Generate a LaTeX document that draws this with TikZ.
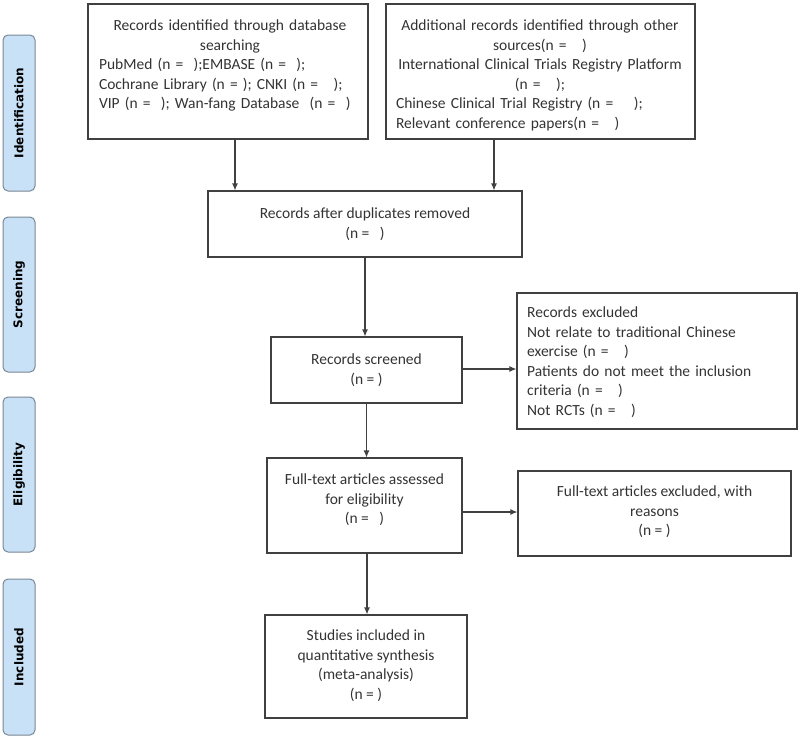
\documentclass[tikz,border=0pt]{standalone}
\usepackage{fontspec}
\setmainfont{Carlito}
\newfontfamily\tabfont{DejaVu Sans}
\usetikzlibrary{arrows.meta}
\definecolor{tabfill}{HTML}{C9E1F6}
\definecolor{tabline}{HTML}{7A8794}
\definecolor{txtc}{HTML}{333333}
\definecolor{linec}{HTML}{404040}
\begin{document}
\begin{tikzpicture}[x=1pt,y=-1pt,
  box/.style={draw=linec,line width=1.1pt,inner sep=0pt,text=txtc,align=center,
    font=\fontsize{15.5}{19.5}\selectfont},
  txt/.style={text=txtc,font=\fontsize{15.5}{19.5}\selectfont,inner sep=0pt},
  tab/.style={draw=tabline,fill=tabfill,rounded corners=5pt,line width=1pt,
    inner sep=0pt,rotate=90,minimum height=32pt,
    font=\tabfont\bfseries\fontsize{12}{14}\selectfont,text=black},
  arr/.style={draw=linec,line width=1.1pt,-{Latex[length=7pt,width=6pt]}}]
\useasboundingbox (0,0) rectangle (800,736);

% phase tabs
\node[tab,minimum width=156pt] (t1) at (19,113) {Identification};
\node[tab,minimum width=155pt] (t2) at (19,294.5) {Screening};
\node[tab,minimum width=155pt] (t3) at (19,474.5) {Eligibility};
\node[tab,minimum width=156pt] (t4) at (19,657) {Included};

% top boxes
\node[box,minimum width=280pt,minimum height=135pt] (db) at (228,71.5) {};
\node[txt,text width=262pt,align=left,anchor=north] (dbt) at (230,20)
  {\makebox[\linewidth][c]{Records identified through database}\\
   \makebox[\linewidth][c]{searching}\\
   PubMed (n =~~);EMBASE (n =~ );\\
   Cochrane Library (n = ); CNKI (n =~~ );\\
   VIP (n =~ ); Wan-fang Database~ (n =~ )};

\node[box,minimum width=309pt,minimum height=135pt] (oth) at (540.5,71.5) {};
\node[txt,text width=288pt,align=left,anchor=north] (otht) at (540,20)
  {\makebox[\linewidth][c]{Additional records identified through other}\\
   \makebox[\linewidth][c]{sources(n =~~ )}\\
   \makebox[\linewidth][c]{International Clinical Trials Registry Platform}\\
   \makebox[\linewidth][c]{(n =~~ );}\\
   Chinese Clinical Trial Registry (n =~~~ );\\
   Relevant conference papers(n =~~ )};

% flow boxes
\node[box,minimum width=314pt,minimum height=66pt] (dup) at (365,224)
  {Records after duplicates removed\\(n =~~ )};
\node[box,minimum width=191pt,minimum height=66pt] (scr) at (366.5,370)
  {Records screened\\(n = )};
\node[box,minimum width=280pt,minimum height=136pt,align=left] (exc) at (657,361) {};
\node[txt,text width=262pt,align=left,anchor=west] (exct) at (527,362)
  {Records excluded\\
   Not relate to traditional Chinese\\
   exercise (n =~~ )\\
   Patients do not meet the inclusion\\
   criteria (n =~~ )\\
   Not RCTs (n =~~ )};
\node[box,minimum width=195pt,minimum height=95pt] (elig) at (364.5,505.5) {};
\node[txt,align=center,anchor=north] (eligt) at (364.5,474)
  {Full-text articles assessed\\for eligibility\\(n =~~ )};
\node[box,minimum width=273pt,minimum height=85pt] (ftex) at (654.5,513.5) {};
\node[txt,align=center,anchor=north] (ftext) at (654.5,486)
  {Full-text articles excluded, with\\reasons\\(n = )};
\node[box,minimum width=202pt,minimum height=103pt] (incl) at (366,666.5) {};
\node[txt,align=center,anchor=north] (inclt) at (366,630)
  {Studies included in\\quantitative synthesis\\(meta-analysis)\\(n = )};

% connectors
\draw[arr] ([xshift=7pt]db.south) -- ([xshift=7pt]db.south |- dup.north);
\draw[arr] ([xshift=-46.5pt]oth.south) -- ([xshift=-46.5pt]oth.south |- dup.north);
\draw[arr] (dup.south) -- (dup.south |- scr.north);
\draw[arr] ([yshift=1pt]scr.east) -- ([yshift=1pt]scr.east -| exc.west);
\draw[arr] (scr.south) -- (scr.south |- elig.north);
\draw[arr] ([yshift=-6.5pt]elig.east) -- ([yshift=-6.5pt]elig.east -| ftex.west);
\draw[arr] ([xshift=2.5pt]elig.south) -- ([xshift=2.5pt]elig.south |- incl.north);
\end{tikzpicture}
\end{document}
